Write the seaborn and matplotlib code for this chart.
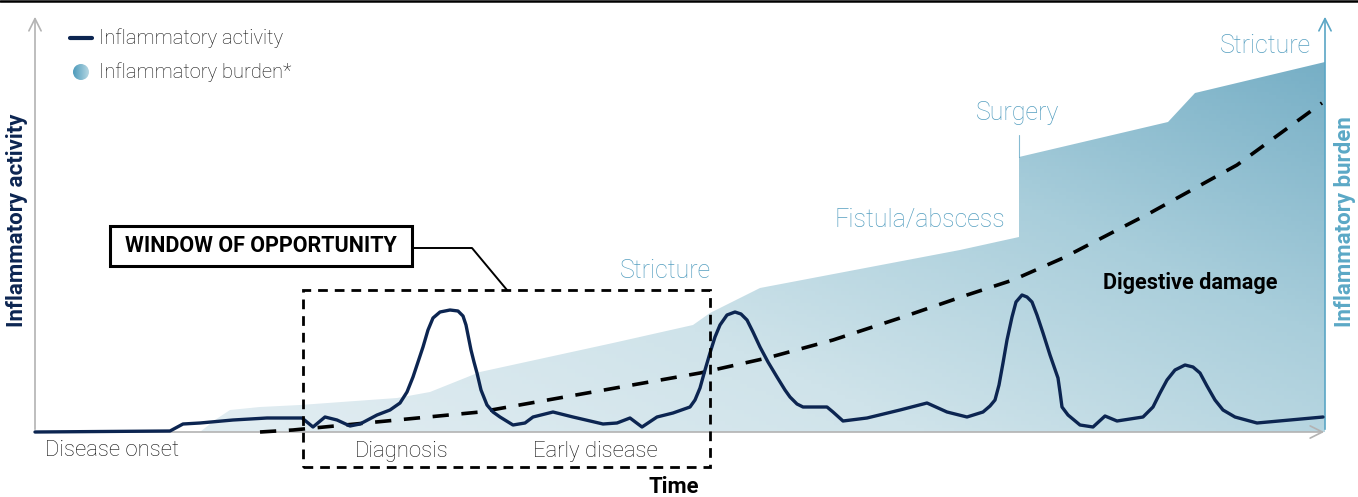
#!/usr/bin/env python3
import numpy as np
import pandas as pd
import matplotlib
matplotlib.use("Agg")
import matplotlib.pyplot as plt
from matplotlib.colors import LinearSegmentedColormap
from matplotlib.patches import Rectangle, Circle
import seaborn as sns

# Time runs left to right (0..1358 wide canvas), heights measured above the time axis
activity_time = [35, 170, 183, 200, 233, 267, 302, 313, 325, 337, 350, 360, 377, 390, 400,
                 407, 413, 418, 423, 428, 433, 440, 450, 458, 463, 466, 468, 471, 474, 477,
                 481, 487, 493, 500, 513, 525, 533, 553, 573, 603, 617, 630, 642, 657, 673,
                 690, 695, 700, 705, 710, 715, 720, 727, 735, 741, 747, 753, 760, 768, 777,
                 785, 790, 797, 803, 827, 833, 843, 867, 900, 927, 947, 967, 983, 990, 995,
                 999, 1003, 1007, 1012, 1016, 1022, 1027, 1032, 1037, 1043, 1050, 1058, 1060,
                 1062, 1068, 1080, 1093, 1105, 1117, 1143, 1153, 1160, 1167, 1175, 1185, 1193,
                 1200, 1207, 1215, 1223, 1235, 1257, 1323]
activity_pixel = [432, 431, 424, 423, 420, 418, 418, 427, 417, 420, 426, 424, 415, 410, 403,
                  392, 377, 362, 347, 330, 318, 312, 310, 311, 316, 325, 335, 350, 362, 373,
                  390, 405, 412, 417, 425, 423, 417, 412, 417, 424, 423, 418, 427, 417, 413,
                  407, 400, 388, 370, 353, 337, 325, 315, 312, 314, 320, 332, 347, 362, 377,
                  390, 397, 404, 407, 407, 412, 421, 418, 410, 403, 412, 417, 412, 406, 400,
                  385, 363, 340, 317, 302, 295, 297, 302, 315, 333, 355, 378, 392,
                  407, 415, 425, 427, 416, 421, 417, 407, 393, 380, 370, 365, 367,
                  373, 386, 400, 410, 417, 423, 417]
activity_level = [432 - p for p in activity_pixel]

damage_time = [260, 293, 480, 700, 767, 833, 900, 967, 1013, 1063, 1150, 1237, 1322]
damage_level = [0, 2, 20, 59, 74, 92, 114, 137, 152, 174, 219, 267, 329]

burden_time = [200, 215, 230, 260, 300, 397, 430, 480, 613, 693, 710, 730, 760, 960,
               1019, 1019, 1168, 1195, 1325]
burden_level = [0, 12, 22, 25, 27, 34, 40, 60, 89, 107, 119, 129, 144, 182,
                195, 275, 310, 339, 370]

stage_labels = ["Disease onset", "Diagnosis", "Early disease"]
event_labels = ["Stricture", "Fistula/abscess", "Surgery", "Stricture"]

NAVY = "#0c2551"
SKY = "#559fc0"
GREY = "#b3b3b3"
INK = "#111111"

sns.set_style("white")
plt.rcParams['font.family'] = ['Roboto', 'DejaVu Sans']

fig = plt.figure(figsize=(13.58, 4.97), dpi=100)
ax = fig.add_axes([0, 0, 1, 1])

# inflammatory burden: gradient area
area = ax.fill_between(burden_time, 0, burden_level, color="none", lw=0)
cmap = LinearSegmentedColormap.from_list("burden", ["#e0ecf1", "#cfe3ea", "#a9cedb", "#77afc6"])
gx, gy = np.meshgrid(np.linspace(0, 1, 300), np.linspace(0, 1, 100))
grad = np.clip(0.6 * gx + 0.45 * gy - 0.05, 0, 1)
img = ax.imshow(grad, extent=(200, 1325, 0, 370), origin="lower", cmap=cmap,
                vmin=0, vmax=1, aspect="auto", zorder=1)
img.set_clip_path(area.get_paths()[0], transform=ax.transData)
ax.plot([1019, 1019], [275, 297], color=SKY, lw=0.8, alpha=0.7, zorder=2)

# digestive damage + inflammatory activity
damage = pd.DataFrame({"time": damage_time, "level": damage_level})
sns.lineplot(data=damage, x="time", y="level", color="black", lw=2.6,
             linestyle=(0, (4.5, 3.5)), ax=ax, zorder=4)
activity = pd.DataFrame({"time": activity_time, "level": activity_level})
sns.lineplot(data=activity, x="time", y="level", color=NAVY, lw=2.4,
             solid_joinstyle="round", ax=ax, zorder=5)
ax.set_xlim(0, 1358)
ax.set_ylim(-65, 432)
ax.axis("off")

# axes with arrows
arrow = dict(arrowstyle="->", lw=1.2, mutation_scale=22)
ax.annotate("", xy=(35, 418), xytext=(35, 0), arrowprops=dict(color=GREY, **arrow), zorder=3)
ax.annotate("", xy=(1327, 0), xytext=(34, 0), arrowprops=dict(color=GREY, **arrow), zorder=3)
ax.annotate("", xy=(1325, 418), xytext=(1325, 0), arrowprops=dict(color="#5aa6c5", **arrow), zorder=3)
ax.axhline(431, color="black", lw=1.8)

ax.text(17, 212, "Inflammatory activity", rotation=90, ha="center", va="center",
        fontsize=16, fontweight="bold", color=NAVY)
ax.text(1345, 210, "Inflammatory burden", rotation=90, ha="center", va="center",
        fontsize=16, fontweight="bold", color="#5ba8c6")
ax.text(674, -55, "Time", ha="center", va="center", fontsize=15.8, fontweight="bold", color="black")

# window of opportunity
ax.add_patch(Rectangle((303, -35), 407, 177, fill=False, ec="black", lw=2,
                       linestyle=(0, (3.5, 2.5)), zorder=6))
ax.add_patch(Rectangle((110, 166), 302, 40, fill=True, fc="white", ec="black", lw=2.2, zorder=6))
ax.text(261, 186, "WINDOW OF OPPORTUNITY", ha="center", va="center", fontsize=15.5,
        fontweight="bold", color="black", zorder=7)
ax.plot([412, 472, 507], [184, 184, 142], color="black", lw=1.4, zorder=6)

# stage labels
stage = dict(fontsize=15.9, fontweight="light", va="center", color=INK)
ax.text(45, -19, stage_labels[0], ha="left", **stage)
ax.text(402, -19, stage_labels[1], ha="center", **stage)
ax.text(595, -19, stage_labels[2], ha="center", **stage)

# events
event = dict(fontsize=18, fontweight="light", va="center", color=SKY)
ax.text(665, 161, event_labels[0], ha="center", **event)
ax.text(920, 212, event_labels[1], ha="center", **event)
ax.text(1018, 319, event_labels[2], ha="center", **event)
ax.text(1311, 386, event_labels[3], ha="right", **event)
ax.text(1190, 149, "Digestive damage", ha="center", va="center", fontsize=15.6,
        fontweight="bold", color="black", zorder=7)

# legend
ax.plot([70, 92], [394, 394], color=NAVY, lw=3, solid_capstyle="round")
ax.text(99, 394, "Inflammatory activity", ha="left", va="center", fontsize=14.5,
        fontweight="light", color=INK)
dot_cmap = LinearSegmentedColormap.from_list("dot", ["#4f9cbc", "#b4d6e2"])
dot = Circle((81, 360), 8, transform=ax.transData)
dimg = ax.imshow(np.linspace(0, 1, 20).reshape(1, -1), extent=(73, 89, 352, 368),
                 cmap=dot_cmap, vmin=0, vmax=1, aspect="auto", zorder=3)
dimg.set_clip_path(dot)
ax.text(99, 360, "Inflammatory burden*", ha="left", va="center", fontsize=14.5,
        fontweight="light", color=INK)

fig.savefig("out.png", dpi=100)
